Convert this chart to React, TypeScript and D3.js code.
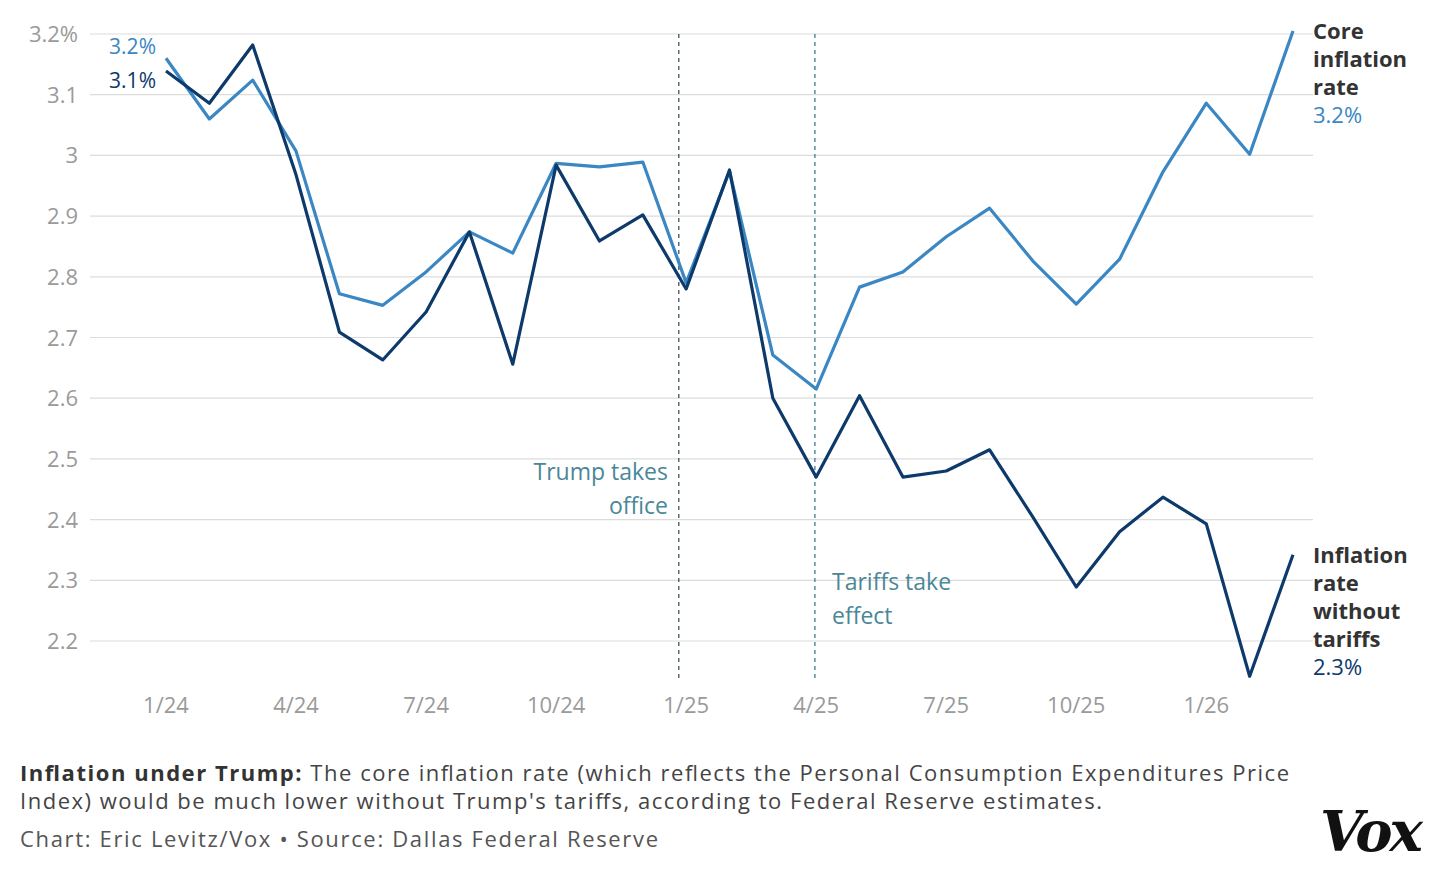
import React from "react";
import * as d3 from "d3";

const months = d3.range(27);
const tickIdx = [0, 3, 6, 9, 12, 15, 18, 21, 24];
const tickLabels = ["1/24", "4/24", "7/24", "10/24", "1/25", "4/25", "7/25", "10/25", "1/26"];
const yTicks = [2.2, 2.3, 2.4, 2.5, 2.6, 2.7, 2.8, 2.9, 3, 3.1, 3.2];
const core = [3.16, 3.06, 3.124, 3.007, 2.772, 2.753, 2.808, 2.874, 2.839, 2.987, 2.981, 2.989, 2.79, 2.974, 2.671, 2.615, 2.783, 2.808, 2.866, 2.913, 2.826, 2.755, 2.829, 2.973, 3.086, 3.002, 3.205];
const noTariff = [3.139, 3.086, 3.182, 2.968, 2.709, 2.663, 2.742, 2.874, 2.656, 2.984, 2.859, 2.902, 2.78, 2.976, 2.6, 2.47, 2.604, 2.47, 2.48, 2.515, 2.404, 2.289, 2.38, 2.437, 2.393, 2.142, 2.342];

const LIGHT = "#3a87c4";
const DARK = "#0d3a6b";
const TEAL = "#4a8798";
const F = "'Open Sans', sans-serif";

export default function App() {
  const x = d3.scaleLinear().domain([0, 26]).range([166, 1293]);
  const y = d3.scaleLinear().domain([2.2, 3.2]).range([641, 34]);
  const line = d3.line<number>().x((_, i) => x(i)).y((d) => y(d));
  const fmt = (v: number) => (v === 3.2 ? "3.2%" : d3.format("")(+v.toFixed(1)));
  return (
    <svg width={1440} height={874} style={{ position: "absolute", left: 0, top: 0, fontFamily: F }}>
      <rect width={1440} height={874} fill="#fff" />
      {yTicks.map((t) => (
        <g key={t}>
          <line x1={90} x2={1313} y1={y(t)} y2={y(t)} stroke="#dcdcdc" strokeWidth={1.2} />
          <text x={78} y={y(t) + 8} textAnchor="end" fontSize={22} fill="#9a9a9a">{fmt(t)}</text>
        </g>
      ))}
      {tickIdx.map((t, i) => (
        <text key={t} x={x(t)} y={713} textAnchor="middle" fontSize={22} fill="#9a9a9a">{tickLabels[i]}</text>
      ))}
      <line x1={x(11.83)} x2={x(11.83)} y1={34} y2={680} stroke="#3d5560" strokeDasharray="4,4" strokeWidth={1.3} />
      <line x1={x(14.97)} x2={x(14.97)} y1={34} y2={680} stroke="#3a7f95" strokeDasharray="4,4" strokeWidth={1.3} />
      <text x={668} y={480} textAnchor="end" fontSize={23} fill={TEAL}>Trump takes</text>
      <text x={668} y={514} textAnchor="end" fontSize={23} fill={TEAL}>office</text>
      <text x={832} y={590} fontSize={23} fill={TEAL}>Tariffs take</text>
      <text x={832} y={624} fontSize={23} fill={TEAL}>effect</text>
      <path d={line(core)!} fill="none" stroke={LIGHT} strokeWidth={3.2} strokeLinejoin="round" />
      <path d={line(noTariff)!} fill="none" stroke={DARK} strokeWidth={3.2} strokeLinejoin="round" />
      <text x={156} y={54} textAnchor="end" fontSize={21} fill={LIGHT}>3.2%</text>
      <text x={156} y={88} textAnchor="end" fontSize={21} fill={DARK}>3.1%</text>
      <g fontSize={22} fontWeight={700} fill="#333">
        <text x={1313} y={39}>Core</text>
        <text x={1313} y={67}>inflation</text>
        <text x={1313} y={95}>rate</text>
      </g>
      <text x={1313} y={123} fontSize={22} fill={LIGHT}>3.2%</text>
      <g fontSize={22} fontWeight={700} fill="#333">
        <text x={1313} y={563}>Inflation</text>
        <text x={1313} y={591}>rate</text>
        <text x={1313} y={619}>without</text>
        <text x={1313} y={647}>tariffs</text>
      </g>
      <text x={1313} y={675} fontSize={22} fill={DARK}>2.3%</text>
      <text x={20} y={781} fontSize={22} fill="#444" textLength={1269} lengthAdjust="spacing">
        <tspan fontWeight={700} fill="#333">Inflation under Trump:</tspan> The core inflation rate (which reflects the Personal Consumption Expenditures Price
      </text>
      <text x={20} y={809} fontSize={22} fill="#444" textLength={1082} lengthAdjust="spacing">Index) would be much lower without Trump's tariffs, according to Federal Reserve estimates.</text>
      <text x={20} y={847} fontSize={22} fill="#555" textLength={638} lengthAdjust="spacing">Chart: Eric Levitz/Vox • Source: Dallas Federal Reserve</text>
      <text x={1420} y={851} textAnchor="end" fontSize={56} fontWeight={900} fontStyle="italic" fill="#111" fontFamily="'DejaVu Serif', 'Liberation Serif', serif" letterSpacing={-3}>Vox</text>
    </svg>
  );
}
